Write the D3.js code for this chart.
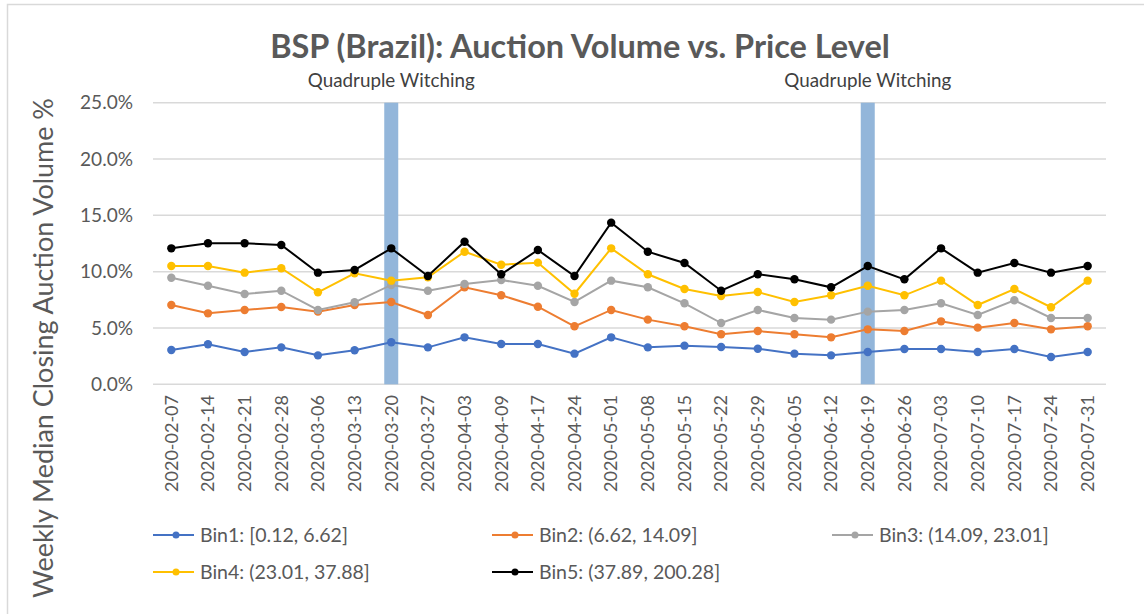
<!DOCTYPE html>
<html><head><meta charset="utf-8">
<script src="https://cdn.jsdelivr.net/npm/d3@7"></script>
<style>body{margin:0;background:#fff}svg{display:block}text{font-family:Lato,"Open Sans",sans-serif}</style>
</head><body><svg id="c" width="1144" height="614"></svg>
<script>
const categories = ["2020-02-07","2020-02-14","2020-02-21","2020-02-28","2020-03-06","2020-03-13","2020-03-20","2020-03-27","2020-04-03","2020-04-09","2020-04-17","2020-04-24","2020-05-01","2020-05-08","2020-05-15","2020-05-22","2020-05-29","2020-06-05","2020-06-12","2020-06-19","2020-06-26","2020-07-03","2020-07-10","2020-07-17","2020-07-24","2020-07-31"];
const seriesNames = ["Bin1: [0.12, 6.62]","Bin2: (6.62, 14.09]","Bin3: (14.09, 23.01]","Bin4: (23.01, 37.88]","Bin5: (37.89, 200.28]"];
const bin1 = [3.05,3.55,2.87,3.28,2.57,3.02,3.73,3.28,4.17,3.58,3.58,2.72,4.17,3.28,3.43,3.31,3.16,2.72,2.57,2.87,3.13,3.13,2.87,3.13,2.42,2.87];
const bin2 = [7.04,6.30,6.60,6.86,6.45,7.04,7.31,6.15,8.61,7.90,6.89,5.15,6.60,5.74,5.15,4.44,4.73,4.44,4.17,4.88,4.73,5.59,5.03,5.44,4.88,5.15];
const bin3 = [9.46,8.75,8.02,8.31,6.60,7.28,8.82,8.31,8.90,9.26,8.75,7.31,9.20,8.61,7.19,5.44,6.60,5.89,5.74,6.45,6.60,7.19,6.15,7.46,5.89,5.89];
const bin4 = [10.50,10.50,9.91,10.30,8.17,9.85,9.20,9.50,11.77,10.62,10.80,8.04,12.07,9.77,8.46,7.84,8.19,7.31,7.90,8.75,7.90,9.20,7.04,8.46,6.84,9.20];
const bin5 = [12.07,12.52,12.52,12.37,9.91,10.15,12.07,9.61,12.66,9.77,11.92,9.61,14.35,11.77,10.77,8.31,9.77,9.32,8.61,10.50,9.32,12.07,9.91,10.77,9.91,10.50];
const yTicks = [0,5,10,15,20,25];
const witchingDates = ["2020-03-20","2020-06-19"];
const witchingLabel = "Quadruple Witching";
const titleText = "BSP (Brazil): Auction Volume vs. Price Level";
const yTitle = "Weekly Median Closing Auction Volume %";

const colors = ["#4472C4","#ED7D31","#A5A5A5","#FFC000","#000000"];
const allSeries = [bin1,bin2,bin3,bin4,bin5];

const svg = d3.select("#c");
const L = 153, R = 1106, T = 102.7, B = 384.3;
const x = d3.scaleBand().domain(categories).range([L,R]);
const y = d3.scaleLinear().domain([0,25]).range([B,T]);
const cx = d => x(d) + x.bandwidth()/2;

function fit(sel, target){
  const n = sel.node(); const fs = parseFloat(sel.attr("font-size"));
  const w = n.getComputedTextLength(); sel.attr("font-size", fs*target/w);
}

// chart border
svg.append("path").attr("d","M7.5,614 L7.5,4.5 L1144,4.5").attr("fill","none").attr("stroke","#d9d9d9").attr("stroke-width",1.5);

// gridlines
svg.append("g").selectAll("line").data(yTicks).join("line")
  .attr("x1",L).attr("x2",R).attr("y1",d=>y(d)).attr("y2",d=>y(d))
  .attr("stroke","#d9d9d9").attr("stroke-width",1.5);

// witching bars
svg.append("g").selectAll("rect").data(witchingDates).join("rect")
  .attr("x",d=>cx(d)-7).attr("width",14).attr("y",y(25)).attr("height",y(0)-y(25))
  .attr("fill","#93B6DA");
witchingDates.forEach(d=>{
  const t = svg.append("text").attr("x",cx(d)).attr("y",87).attr("text-anchor","middle")
    .attr("font-size",16).attr("fill","#404040").text(witchingLabel);
  fit(t,167);
});

// y tick labels
const yl = svg.append("g").selectAll("text").data(yTicks).join("text")
  .attr("x",133).attr("y",d=>y(d)).attr("dy","0.35em").attr("text-anchor","end")
  .attr("font-size",16).attr("fill","#595959").text(d=>d3.format(".1f")(d)+"%");
{ const w = yl.filter(d=>d===25).node().getComputedTextLength(); yl.attr("font-size",16*53/w); }

// x tick labels
const xl = svg.append("g").selectAll("text").data(categories).join("text")
  .attr("transform",d=>`translate(${cx(d)},395) rotate(-90)`).attr("dy","0.35em")
  .attr("text-anchor","end").attr("font-size",16).attr("fill","#595959").text(d=>d);
{ const w = xl.node().getComputedTextLength(); xl.attr("font-size",16*97/w); }

// lines
const line = d3.line().x((d,i)=>cx(categories[i])).y(d=>y(d));
allSeries.forEach((s,k)=>{
  const g = svg.append("g");
  g.append("path").datum(s).attr("d",line).attr("fill","none").attr("stroke",colors[k]).attr("stroke-width",2);
  g.selectAll("circle").data(s).join("circle").attr("cx",(d,i)=>cx(categories[i])).attr("cy",d=>y(d))
    .attr("r",4.2).attr("fill",colors[k]);
});

// title
const tt = svg.append("text").attr("x",580).attr("y",58).attr("text-anchor","middle")
  .attr("font-size",26).attr("font-weight","bold").attr("fill","#595959").text(titleText);
fit(tt,620);

// y title
const yt = svg.append("text").attr("transform","translate(44,348) rotate(-90)").attr("dy","0.35em")
  .attr("text-anchor","middle").attr("font-size",20).attr("fill","#595959").text(yTitle);
fit(yt,500);

// legend
const legPos = [[153,535],[492,535],[832,535],[153,572],[492,572]];
const lg = svg.append("g");
let legSize = null;
seriesNames.forEach((nm,k)=>{
  const [lx,ly] = legPos[k];
  lg.append("line").attr("x1",lx).attr("x2",lx+41).attr("y1",ly).attr("y2",ly).attr("stroke",colors[k]).attr("stroke-width",2);
  lg.append("circle").attr("cx",lx+23).attr("cy",ly).attr("r",3.5).attr("fill",colors[k]);
  lg.append("text").attr("class","lt").attr("x",lx+47).attr("y",ly).attr("dy","0.35em")
    .attr("font-size",16).attr("fill","#595959").text(nm);
});
{ const lt = lg.selectAll("text.lt"); const w = lt.node().getComputedTextLength(); lt.attr("font-size",16*148/w); }
</script></body></html>
